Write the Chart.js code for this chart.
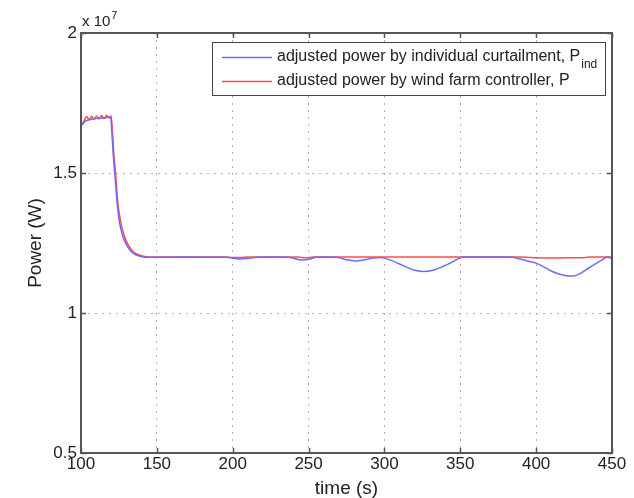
<!DOCTYPE html>
<html><head><meta charset="utf-8">
<script src="https://cdn.jsdelivr.net/npm/chart.js@4"></script>
<style>html,body{margin:0;padding:0;background:#fff}</style>
</head><body>
<canvas id="c" width="634" height="498"></canvas>
<script>
// x axis ticks (time, s) and y axis ticks (power, x 10^7 W)
const xTicks = [100, 150, 200, 250, 300, 350, 400, 450];
const yTicks = [0.5, 1, 1.5, 2];

// adjusted power by individual curtailment, P_ind  (units of 10^7 W)
const tInd = [100, 103, 107, 111, 115, 119.5, 120.3, 121.2, 122.4, 123.7, 125.5, 127.5, 130, 133, 136, 140, 144, 150, 170, 190, 196, 200, 205, 210, 216, 225, 232, 238, 243, 247, 251, 255, 262, 270, 275, 281, 287, 292, 297, 300, 305, 310, 315, 320, 326, 332, 338, 344, 349, 352, 360, 370, 380, 384, 390, 395, 400, 405, 410, 415, 420, 424, 428, 433, 438, 443, 447, 450];
const pInd = [1.668, 1.685, 1.692, 1.695, 1.697, 1.700, 1.65, 1.57, 1.49, 1.40, 1.32, 1.275, 1.243, 1.220, 1.208, 1.201, 1.199, 1.199, 1.200, 1.199, 1.199, 1.196, 1.193, 1.195, 1.199, 1.200, 1.200, 1.198, 1.191, 1.189, 1.193, 1.199, 1.200, 1.198, 1.190, 1.186, 1.190, 1.196, 1.198, 1.196, 1.187, 1.175, 1.163, 1.153, 1.148, 1.153, 1.165, 1.180, 1.195, 1.200, 1.200, 1.200, 1.200, 1.199, 1.192, 1.185, 1.178, 1.165, 1.150, 1.139, 1.133, 1.132, 1.138, 1.155, 1.172, 1.188, 1.200, 1.193];

// adjusted power by wind farm controller, P  (units of 10^7 W)
const tWf = [100, 102, 103.7, 105.3, 107, 108.6, 110.3, 112, 113.6, 115.2, 116.9, 118.5, 119.8, 120.6, 121.5, 122.8, 124.1, 126, 128, 130, 133.4, 136, 140, 144, 148, 195, 200, 205, 210, 243, 248, 253, 390, 400, 410, 420, 430, 435, 450];
const pWf = [1.670, 1.685, 1.702, 1.690, 1.703, 1.692, 1.704, 1.693, 1.705, 1.694, 1.706, 1.696, 1.704, 1.66, 1.58, 1.50, 1.404, 1.33, 1.285, 1.255, 1.225, 1.213, 1.205, 1.201, 1.200, 1.200, 1.198, 1.198, 1.200, 1.200, 1.197, 1.200, 1.200, 1.197, 1.196, 1.197, 1.197, 1.200, 1.200];

const toXY = (t, p) => t.map((v, i) => ({x: v, y: p[i]}));
const FONT = '"Liberation Sans", Arial, Helvetica, sans-serif';

const deco = {
  id: 'deco',
  afterDraw(ch) {
    const c = ch.ctx, a = ch.chartArea, xs = ch.scales.x, ys = ch.scales.y;
    c.save();
    c.strokeStyle = '#555'; c.lineWidth = 1.5; c.setLineDash([]);
    c.beginPath();
    xTicks.forEach(v => { const p = Math.round(xs.getPixelForValue(v)) + 0.5;
      c.moveTo(p, a.bottom); c.lineTo(p, a.bottom - 5);
      c.moveTo(p, a.top); c.lineTo(p, a.top + 5); });
    yTicks.forEach(v => { const p = Math.round(ys.getPixelForValue(v)) + 0.5;
      c.moveTo(a.left, p); c.lineTo(a.left + 5, p);
      c.moveTo(a.right, p); c.lineTo(a.right - 5, p); });
    c.stroke();
    c.lineWidth = 2;
    c.strokeRect(a.left, a.top, a.right - a.left, a.bottom - a.top);
    // exponent label
    c.fillStyle = '#222'; c.textBaseline = 'alphabetic'; c.textAlign = 'left';
    c.font = '15px ' + FONT;
    c.fillText('x 10', a.left + 1, a.top - 7);
    const w = c.measureText('x 10').width;
    c.font = '11px ' + FONT;
    c.fillText('7', a.left + 1 + w + 1, a.top - 14);
    // legend
    const lx = 212, ly = 42, lw = 393, lh = 53;
    c.fillStyle = '#fff'; c.fillRect(lx, ly, lw, lh);
    c.strokeStyle = '#444'; c.lineWidth = 1; c.strokeRect(lx + 0.5, ly + 0.5, lw, lh);
    const rows = [
      {color: ch.data.datasets[0].borderColor, text: 'adjusted power by individual curtailment, P', sub: 'ind', y: 57},
      {color: ch.data.datasets[1].borderColor, text: 'adjusted power by wind farm controller, P', sub: '', y: 81}
    ];
    rows.forEach(r => {
      c.strokeStyle = r.color; c.lineWidth = 1.3;
      c.beginPath(); c.moveTo(222, r.y + 0.5); c.lineTo(272, r.y + 0.5); c.stroke();
      c.fillStyle = '#222'; c.font = '16px ' + FONT; c.textBaseline = 'middle';
      c.fillText(r.text, 277, r.y);
      if (r.sub) {
        const tw = c.measureText(r.text).width;
        c.font = '12px ' + FONT;
        c.fillText(r.sub, 277 + tw + 1, r.y + 8);
      }
    });
    c.restore();
  }
};

new Chart(document.getElementById('c'), {
  type: 'line',
  data: {
    datasets: [
      {label: 'adjusted power by individual curtailment, P_ind', data: toXY(tInd, pInd),
       borderColor: '#6a6aff', borderWidth: 1.5, pointRadius: 0, cubicInterpolationMode: 'monotone', fill: false},
      {label: 'adjusted power by wind farm controller, P', data: toXY(tWf, pWf),
       borderColor: '#ff4d4d', borderWidth: 1.5, pointRadius: 0, cubicInterpolationMode: 'monotone', fill: false}
    ]
  },
  options: {
    responsive: false, animation: false, devicePixelRatio: 1,
    layout: {padding: {top: 33, right: 22, left: 0, bottom: 0}},
    plugins: {legend: {display: false}, tooltip: {enabled: false}},
    scales: {
      x: {
        type: 'linear', min: 100, max: 450,
        afterBuildTicks: s => { s.ticks = xTicks.map(v => ({value: v})); },
        afterFit: s => { s.height = 45; },
        ticks: {color: '#222', font: {size: 17, family: FONT}, padding: 1, maxRotation: 0, callback: v => String(v)},
        grid: {color: '#b0b0b0', lineWidth: 1, drawTicks: false},
        border: {display: false, dash: [2, 5]},
        title: {display: true, text: 'time (s)', color: '#222', font: {size: 19, family: FONT, lineHeight: 1}, padding: {top: 0, bottom: 0}}
      },
      y: {
        type: 'linear', min: 0.5, max: 2,
        afterBuildTicks: s => { s.ticks = yTicks.map(v => ({value: v})); },
        afterFit: s => { s.width = 81; },
        ticks: {color: '#222', font: {size: 17, family: FONT}, padding: 4, callback: v => String(v)},
        grid: {color: '#b0b0b0', lineWidth: 1, drawTicks: false},
        border: {display: false, dash: [2, 5]},
        title: {display: true, text: 'Power (W)', color: '#222', font: {size: 19, family: FONT}, padding: {top: 24, bottom: 24}}
      }
    }
  },
  plugins: [deco]
});
</script>
</body></html>
